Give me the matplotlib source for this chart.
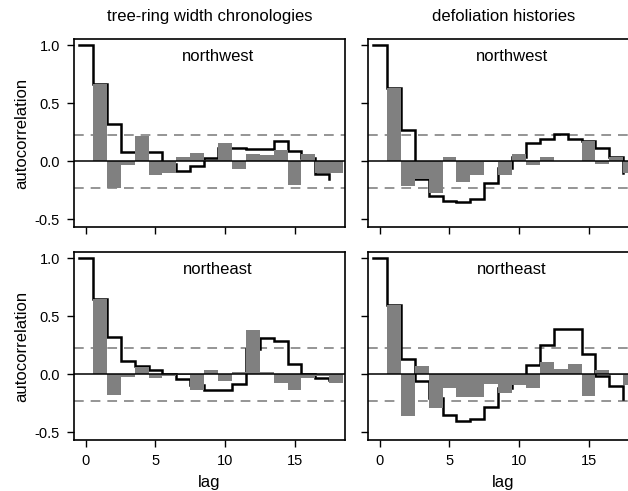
import matplotlib
matplotlib.use("Agg")
import matplotlib.pyplot as plt
import numpy as np

plt.rcParams['font.family'] = ['Liberation Sans', 'DejaVu Sans']
plt.rcParams['lines.scale_dashes'] = False

# ---- data ----
lags_line = list(range(0, 19))
lags_bar = list(range(1, 19))

col_titles = ["tree-ring width chronologies", "defoliation histories"]
row_labels = ["northwest", "northeast"]

tr_nw_line = [1.0, 0.67, 0.32, 0.08, 0.08, 0.08, -0.02, -0.083, -0.04, 0.03, 0.12,
              0.118, 0.11, 0.103, 0.175, 0.09, 0.03, -0.11, -0.155]
tr_nw_bar = [0.67, -0.23, -0.035, 0.22, -0.12, -0.10, 0.04, 0.07, 0.015, 0.16,
             -0.065, 0.066, 0.057, 0.10, -0.20, 0.06, -0.10, -0.10]

df_nw_line = [1.0, 0.63, 0.27, -0.15, -0.30, -0.345, -0.35, -0.32, -0.187, -0.06, 0.04,
              0.155, 0.195, 0.233, 0.195, 0.18, 0.12, 0.037, -0.10]
df_nw_bar = [0.63, -0.215, -0.15, -0.273, 0.037, -0.18, -0.115, -0.005, -0.115, 0.06,
             -0.03, 0.037, 0.005, 0.005, 0.175, -0.025, 0.037, -0.10]

tr_ne_line = [1.0, 0.65, 0.32, 0.12, 0.07, 0.037, 0.0, -0.04, -0.09, -0.13, -0.13,
              -0.086, 0.22, 0.31, 0.29, 0.094, 0.0, -0.035, -0.05]
tr_ne_bar = [0.65, -0.177, -0.02, 0.066, -0.035, -0.01, -0.005, -0.13, 0.037, -0.057,
             0.023, 0.38, 0.023, -0.07, -0.13, -0.03, -0.01, -0.077]

df_ne_line = [1.0, 0.60, 0.135, -0.06, -0.20, -0.35, -0.40, -0.385, -0.28, -0.12, -0.06,
              0.085, 0.25, 0.388, 0.388, 0.18, -0.01, -0.10, -0.21]
df_ne_bar = [0.60, -0.357, 0.07, -0.29, -0.117, -0.195, -0.195, -0.085, -0.16, -0.087,
             -0.12, 0.109, 0.05, 0.086, -0.183, 0.037, -0.005, -0.09]

conf = 0.23

xticks = [0, 5, 10, 15]
yticks = [-0.5, 0.0, 0.5, 1.0]
ytick_labels = ["-0.5", "0.0", "0.5", "1.0"]

# ---- figure ----
W, H = 628, 491
fig = plt.figure(figsize=(W / 100, H / 100), dpi=100)

def frac(x0, y0, x1, y1):
    return [x0 / W, 1 - y1 / H, (x1 - x0) / W, (y1 - y0) / H]

positions = [
    [frac(74, 39, 345, 227), frac(368, 39, 639, 227)],
    [frac(74, 252, 345, 440), frac(368, 252, 639, 440)],
]
data = [
    [(tr_nw_line, tr_nw_bar), (df_nw_line, df_nw_bar)],
    [(tr_ne_line, tr_ne_bar), (df_ne_line, df_ne_bar)],
]

for r in range(2):
    for c in range(2):
        ax = fig.add_axes(positions[r][c])
        line_vals, bar_vals = data[r][c]
        ax.axhline(conf, color="#8c8c8c", lw=1.3, dashes=(7, 5), zorder=1)
        ax.axhline(-conf, color="#8c8c8c", lw=1.3, dashes=(7, 5), zorder=1)
        x_step = np.array(lags_line) - 0.5
        ax.step(x_step, line_vals, where="post", color="black", lw=1.8, zorder=2,
                solid_joinstyle="miter")
        ax.bar(lags_bar, bar_vals, width=1.0, color="#808080", zorder=3, linewidth=0)
        ax.axhline(0, color="black", lw=1.1, zorder=4)
        ax.set_xlim(-0.86, 18.63)
        ax.set_ylim(-0.565, 1.055)
        for sp in ax.spines.values():
            sp.set_linewidth(1.2)
            sp.set_zorder(5)
        ax.set_xticks(xticks)
        ax.set_yticks(yticks)
        ax.tick_params(direction="out", length=5, width=1.0, labelsize=10.5, pad=5)
        if c == 0:
            ax.set_yticklabels(ytick_labels)
            ax.set_ylabel("autocorrelation", fontsize=12, labelpad=4)
        else:
            ax.set_yticklabels([])
        if r == 1:
            ax.set_xticklabels([str(t) for t in xticks])
            ax.set_xlabel("lag", fontsize=12, labelpad=5)
        else:
            ax.set_xticklabels([])
            ax.set_title(col_titles[c], fontsize=12, pad=13)
        ax.text(9.5, 0.9, row_labels[r], ha="center", va="center", fontsize=12)

fig.savefig("out.png", dpi=100)
